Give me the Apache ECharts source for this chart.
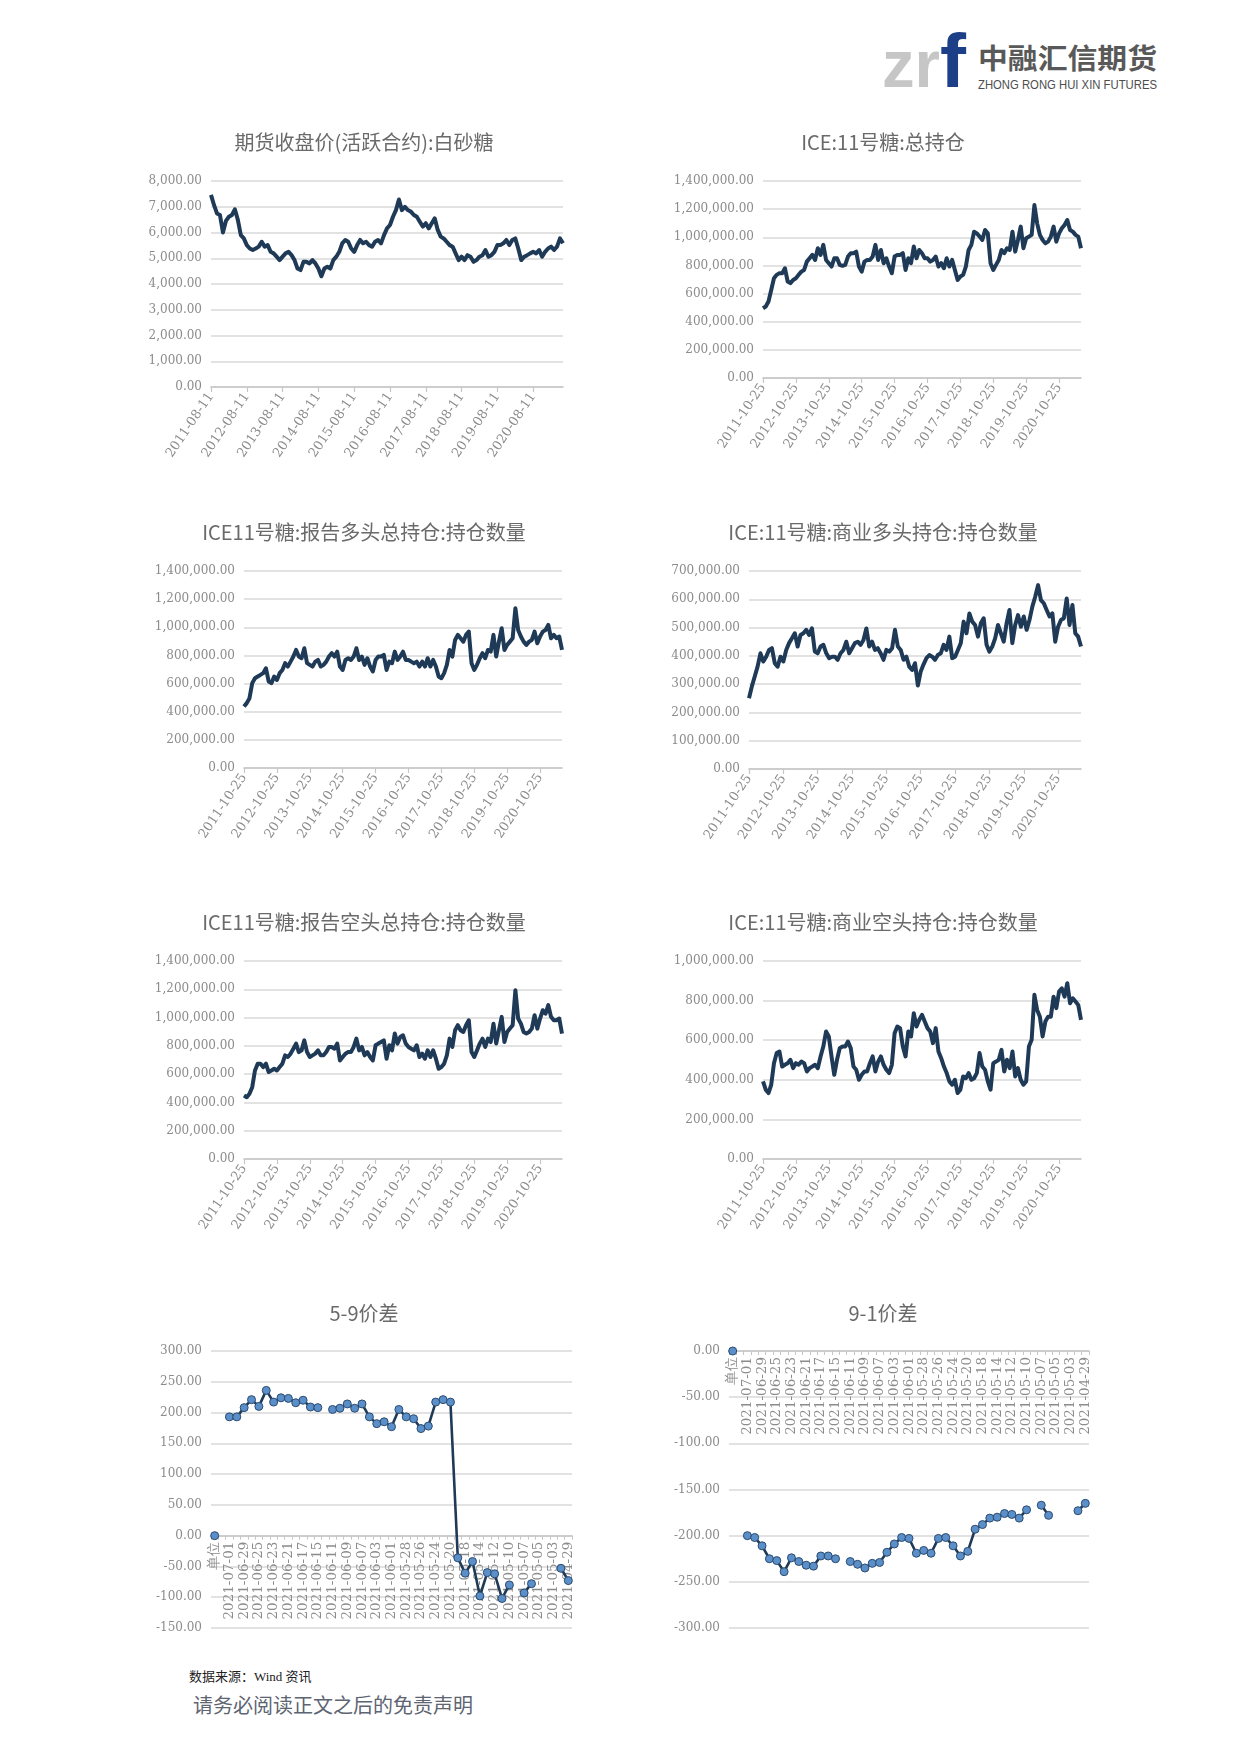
<!DOCTYPE html>
<html><head><meta charset="utf-8">
<script src="https://cdn.jsdelivr.net/npm/echarts@6/dist/echarts.min.js"></script>
<style>
html,body{margin:0;padding:0;background:#fff;}
#page{position:relative;width:1240px;height:1753px;overflow:hidden;background:#fff;}
.chart{position:absolute;width:460px;height:370px;}
.txt{position:absolute;white-space:nowrap;}
</style></head><body>
<div id="page">
<svg style="position:absolute;left:0;top:0" width="1240" height="110">
  <text x="882" y="87" font-family="Liberation Sans" font-weight="bold" font-size="66" fill="#c6c6c6" textLength="58" lengthAdjust="spacingAndGlyphs">zr</text>
  <text x="940" y="87" font-family="Liberation Sans" font-weight="bold" font-size="76" fill="#1d3f87" textLength="26" lengthAdjust="spacingAndGlyphs">f</text>
  <text x="978" y="69" font-family="Noto Sans CJK SC" font-weight="bold" font-size="28" fill="#595959" textLength="179" lengthAdjust="spacingAndGlyphs">中融汇信期货</text>
  <text x="978" y="89" font-family="Liberation Sans" font-size="13" fill="#4d4d4d" textLength="179" lengthAdjust="spacingAndGlyphs">ZHONG RONG HUI XIN FUTURES</text>
</svg>
<div id="c1" class="chart" style="left:134px;top:110px"></div>
<div id="c2" class="chart" style="left:653px;top:110px"></div>
<div id="c3" class="chart" style="left:134px;top:500px"></div>
<div id="c4" class="chart" style="left:653px;top:500px"></div>
<div id="c5" class="chart" style="left:134px;top:890px"></div>
<div id="c6" class="chart" style="left:653px;top:890px"></div>
<div id="c7" class="chart" style="left:134px;top:1280px"></div>
<div id="c8" class="chart" style="left:653px;top:1280px"></div>
<div class="txt" style="left:189px;top:1668px;font-size:13px;line-height:18px;font-family:'Liberation Serif','Noto Sans CJK SC';color:#222">数据来源：Wind 资讯</div>
<div class="txt" style="left:193px;top:1693px;font-size:20px;line-height:24px;font-family:'Noto Sans CJK SC';color:#5d6472">请务必阅读正文之后的免责声明</div>
</div>
<script>
// ---------- category helpers ----------
function monthlyDates(y, m, d, n) {
  const out = [];
  for (let i = 0; i < n; i++) {
    const k = m - 1 + i;
    const yy = y + Math.floor(k / 12);
    const mo = (k % 12) + 1;
    out.push(yy + '-' + String(mo).padStart(2, '0') + '-' + d);
  }
  return out;
}
const sugarDates = monthlyDates(2011, 8, 11, 119);
const iceDates = monthlyDates(2011, 10, 25, 117);

// ---------- data ----------
const sugarClose = [7460, 7070, 6740, 6680, 6000, 6450, 6610, 6680, 6900, 6490,
  5900, 5770, 5510, 5380, 5320, 5380, 5450, 5640, 5450, 5510,
  5250, 5190, 5060, 4930, 5060, 5190, 5250, 5120, 4930, 4600,
  4540, 4860, 4860, 4800, 4930, 4800, 4600, 4300, 4600, 4670,
  4600, 4930, 5060, 5250, 5580, 5710, 5640, 5380, 5250, 5510,
  5710, 5580, 5640, 5510, 5450, 5640, 5710, 5580, 5900, 6160,
  6290, 6610, 6870, 7280, 6870, 7000, 6870, 6810, 6680, 6610,
  6420, 6230, 6360, 6160, 6360, 6550, 6100, 5840, 5770, 5640,
  5510, 5450, 5190, 4930, 5060, 4930, 5120, 5060, 4860, 4930,
  5060, 5120, 5320, 5060, 5120, 5250, 5510, 5510, 5580, 5710,
  5510, 5710, 5770, 5380, 4930, 5060, 5120, 5190, 5250, 5190,
  5320, 5060, 5250, 5380, 5450, 5320, 5450, 5770, 5580];

const iceTotalOI = [496000, 508000, 544000, 626000, 709000, 733000, 745000, 745000, 780000, 686000,
  674000, 697000, 709000, 733000, 756000, 768000, 827000, 851000, 875000, 839000,
  922000, 875000, 946000, 839000, 816000, 792000, 851000, 851000, 804000, 797000,
  804000, 863000, 887000, 887000, 898000, 792000, 756000, 827000, 839000, 839000,
  863000, 946000, 839000, 910000, 816000, 851000, 792000, 745000, 863000, 875000,
  875000, 887000, 768000, 851000, 816000, 934000, 851000, 910000, 887000, 851000,
  851000, 827000, 839000, 863000, 792000, 816000, 780000, 851000, 792000, 839000,
  768000, 697000, 721000, 733000, 792000, 910000, 946000, 1040000, 1028000, 1005000,
  981000, 1052000, 1028000, 816000, 768000, 804000, 839000, 910000, 887000, 922000,
  910000, 1040000, 898000, 981000, 1076000, 922000, 993000, 1005000, 1017000, 1229000,
  1099000, 1017000, 981000, 957000, 969000, 1005000, 1076000, 969000, 1028000, 1064000,
  1088000, 1123000, 1052000, 1040000, 1017000, 1005000, 922000];

const iceReportLong = [437000, 461000, 496000, 603000, 638000, 650000, 662000, 674000, 709000, 615000,
  603000, 650000, 626000, 674000, 697000, 745000, 721000, 756000, 792000, 839000,
  792000, 780000, 851000, 745000, 733000, 721000, 756000, 768000, 721000, 733000,
  756000, 792000, 816000, 792000, 827000, 721000, 697000, 768000, 780000, 768000,
  792000, 851000, 768000, 792000, 733000, 780000, 721000, 686000, 768000, 792000,
  792000, 804000, 697000, 756000, 745000, 827000, 768000, 792000, 827000, 768000,
  768000, 756000, 745000, 756000, 721000, 756000, 721000, 780000, 721000, 768000,
  721000, 650000, 638000, 674000, 733000, 839000, 792000, 910000, 946000, 922000,
  898000, 946000, 969000, 745000, 697000, 733000, 780000, 816000, 780000, 839000,
  827000, 946000, 792000, 898000, 993000, 839000, 875000, 898000, 922000, 1135000,
  981000, 934000, 898000, 875000, 898000, 910000, 969000, 887000, 934000, 969000,
  981000, 1017000, 922000, 946000, 922000, 934000, 839000];

const iceCommLong = [250000, 292000, 327000, 362000, 409000, 380000, 397000, 421000, 427000, 374000,
  362000, 397000, 380000, 421000, 445000, 462000, 480000, 433000, 474000, 480000,
  492000, 474000, 497000, 415000, 409000, 433000, 439000, 409000, 392000, 397000,
  397000, 386000, 409000, 421000, 450000, 409000, 427000, 445000, 450000, 439000,
  456000, 497000, 433000, 450000, 421000, 427000, 409000, 386000, 421000, 415000,
  427000, 492000, 433000, 421000, 386000, 397000, 362000, 350000, 374000, 295000,
  345000, 370000, 392000, 403000, 397000, 386000, 403000, 409000, 439000, 421000,
  468000, 392000, 397000, 421000, 445000, 521000, 480000, 550000, 521000, 509000,
  468000, 515000, 533000, 439000, 415000, 433000, 462000, 509000, 480000, 450000,
  515000, 562000, 445000, 509000, 544000, 503000, 539000, 492000, 527000, 574000,
  609000, 650000, 597000, 586000, 562000, 539000, 550000, 450000, 503000, 527000,
  533000, 603000, 509000, 580000, 480000, 468000, 433000];

const iceReportShort = [449000, 437000, 461000, 508000, 626000, 674000, 674000, 650000, 674000, 615000,
  626000, 638000, 626000, 650000, 674000, 733000, 721000, 745000, 780000, 816000,
  756000, 768000, 839000, 756000, 721000, 733000, 745000, 768000, 733000, 733000,
  756000, 792000, 792000, 780000, 816000, 697000, 721000, 745000, 756000, 756000,
  792000, 851000, 768000, 792000, 733000, 756000, 721000, 697000, 804000, 816000,
  827000, 839000, 709000, 804000, 768000, 887000, 816000, 863000, 875000, 816000,
  792000, 780000, 768000, 804000, 721000, 745000, 709000, 768000, 721000, 768000,
  709000, 638000, 650000, 674000, 733000, 851000, 792000, 910000, 946000, 910000,
  898000, 946000, 981000, 756000, 721000, 768000, 816000, 851000, 792000, 851000,
  827000, 957000, 816000, 910000, 1005000, 827000, 898000, 922000, 946000, 1194000,
  993000, 957000, 898000, 887000, 898000, 922000, 1017000, 922000, 993000, 1052000,
  1028000, 1088000, 1005000, 981000, 981000, 993000, 887000];

const iceCommShort = [392000, 350000, 333000, 375000, 484000, 535000, 543000, 467000, 476000, 484000,
  501000, 459000, 484000, 476000, 492000, 484000, 442000, 459000, 467000, 476000,
  459000, 518000, 568000, 644000, 619000, 518000, 425000, 501000, 560000, 568000,
  568000, 593000, 560000, 467000, 451000, 400000, 425000, 442000, 442000, 484000,
  518000, 442000, 492000, 518000, 476000, 451000, 434000, 476000, 635000, 669000,
  661000, 568000, 518000, 644000, 619000, 736000, 669000, 703000, 728000, 694000,
  661000, 644000, 585000, 661000, 543000, 509000, 467000, 434000, 392000, 375000,
  400000, 333000, 350000, 417000, 408000, 434000, 400000, 408000, 434000, 535000,
  467000, 451000, 392000, 350000, 484000, 492000, 501000, 551000, 442000, 501000,
  459000, 543000, 417000, 459000, 400000, 375000, 392000, 568000, 602000, 829000,
  753000, 719000, 619000, 694000, 719000, 719000, 820000, 762000, 846000, 862000,
  820000, 888000, 787000, 812000, 795000, 778000, 703000];

const spreadDates = ['单位', '2021-07-02', '2021-07-01', '2021-06-30', '2021-06-29', '2021-06-28', '2021-06-25', '2021-06-24', '2021-06-23', '2021-06-22',
  '2021-06-21', '2021-06-18', '2021-06-17', '2021-06-16', '2021-06-15', '2021-06-14', '2021-06-11', '2021-06-10', '2021-06-09', '2021-06-08',
  '2021-06-07', '2021-06-04', '2021-06-03', '2021-06-02', '2021-06-01', '2021-05-31', '2021-05-28', '2021-05-27', '2021-05-26', '2021-05-25',
  '2021-05-24', '2021-05-21', '2021-05-20', '2021-05-19', '2021-05-18', '2021-05-17', '2021-05-14', '2021-05-13', '2021-05-12', '2021-05-11',
  '2021-05-10', '2021-05-08', '2021-05-07', '2021-05-06', '2021-05-05', '2021-05-04', '2021-05-03', '2021-04-30', '2021-04-29'];

const spread59 = [0, null, 193, 193, 208, 221, 210, 236, 217, 224,
  223, 216, 220, 209, 208, null, 205, 207, 214, 207,
  214, 193, 182, 185, 177, 205, 193, 190, 174, 178,
  217, 221, 217, -36, -61, -42, -98, -60, -62, -102,
  -80, null, -93, -78, null, null, null, -53, -73];

const spread91 = [0, null, -200, -202, -211, -225, -227, -239, -224, -228,
  -232, -233, -222, -222, -225, null, -228, -231, -235, -230,
  -229, -218, -209, -202, -203, -219, -216, -219, -203, -202,
  -211, -222, -217, -193, -188, -181, -180, -176, -177, -181,
  -172, null, -167, -178, null, null, null, -173, -165];

// ---------- styling ----------
const AX_FONT = 'DejaVu Serif';
const LABEL_COLOR = '#8c8c8c';
const GRID_COLOR = '#d9d9d9';
const AXIS_COLOR = '#c6c6c6';
const LINE_COLOR = '#1f3a57';
const PLOT_TOP = 71;
const SPREAD_H = 277;

function fmt(v) {
  return Number(v).toLocaleString('en-US', { minimumFractionDigits: 2, maximumFractionDigits: 2 });
}
function titleOpt(text, top) {
  return { text: text, left: 'center', top: top, padding: 0,
    textStyle: { fontFamily: 'Noto Sans CJK SC', fontSize: 20, fontWeight: 'normal', color: '#6a6a6a' } };
}
function yAxisOpt(min, max, interval) {
  return { type: 'value', min: min, max: max, interval: interval,
    axisLine: { show: false }, axisTick: { show: false },
    splitLine: { show: true, lineStyle: { color: GRID_COLOR, width: 1.6 } },
    axisLabel: { formatter: fmt, fontFamily: AX_FONT, fontSize: 12, color: LABEL_COLOR, margin: 9 } };
}
function gridOpt(left, top, width, height) {
  return { left: left, top: top, width: width, height: height, containLabel: false, outerBoundsMode: 'none' };
}
function tsOption(title, cats, vals, yMax, yInt, left, width, height) {
  return {
    animation: false,
    title: titleOpt(title, 22),
    grid: gridOpt(left, PLOT_TOP, width, height),
    xAxis: { type: 'category', data: cats, boundaryGap: false,
      axisLine: { lineStyle: { color: AXIS_COLOR, width: 1.6 } },
      axisTick: { show: true, interval: 11, length: 5, lineStyle: { color: AXIS_COLOR, width: 1.2 } },
      axisLabel: { interval: 11, rotate: 56, fontFamily: AX_FONT, fontSize: 13, color: LABEL_COLOR, margin: 7 },
      splitLine: { show: false } },
    yAxis: yAxisOpt(0, yMax, yInt),
    series: [{ type: 'line', data: vals, showSymbol: false, symbol: 'none',
      lineStyle: { color: LINE_COLOR, width: 4, join: 'round' }, emphasis: { disabled: true } }]
  };
}
// Spread charts: the category labels hang from the zero line, so a second
// grid (same width) whose bottom edge sits on the zero line carries the
// visible category axis, while the series is drawn on the main grid.
function spreadOption(title, vals, yMin, yMax, left, width) {
  const zeroOffset = SPREAD_H * (yMax - 0) / (yMax - yMin);
  const g2top = zeroOffset > 1 ? PLOT_TOP : PLOT_TOP - 1;
  const g2h = zeroOffset > 1 ? zeroOffset : 1;
  return {
    animation: false,
    title: titleOpt(title, 23),
    grid: [gridOpt(left, PLOT_TOP, width, SPREAD_H), gridOpt(left, g2top, width, g2h)],
    xAxis: [
      { gridIndex: 0, type: 'category', data: spreadDates, boundaryGap: true, show: false },
      { gridIndex: 1, type: 'category', data: spreadDates, boundaryGap: true, position: 'bottom',
        axisLine: { onZero: false, lineStyle: { color: AXIS_COLOR, width: 1.6 } },
        axisTick: { show: true, interval: 0, length: 4, lineStyle: { color: AXIS_COLOR, width: 1 } },
        axisLabel: { interval: 1, rotate: 90, fontFamily: AX_FONT, fontSize: 13.5, color: LABEL_COLOR, margin: 6 },
        splitLine: { show: false } }
    ],
    yAxis: [
      Object.assign({ gridIndex: 0 }, yAxisOpt(yMin, yMax, 50)),
      { gridIndex: 1, type: 'value', min: 0, max: 1, show: false }
    ],
    series: [{ type: 'line', xAxisIndex: 0, yAxisIndex: 0, data: vals,
      showSymbol: true, showAllSymbol: true, symbol: 'circle', symbolSize: 8,
      connectNulls: false, z: 5,
      itemStyle: { color: '#5b8fc9', borderColor: '#2b4a6e', borderWidth: 1 },
      lineStyle: { color: LINE_COLOR, width: 2.6 }, emphasis: { disabled: true } }]
  };
}

function mk(id, opt) {
  const c = echarts.init(document.getElementById(id), null, { renderer: 'canvas' });
  c.setOption(opt);
}
mk('c1', tsOption('期货收盘价(活跃合约):白砂糖', sugarDates, sugarClose, 8000, 1000, 77, 352, 206));
mk('c2', tsOption('ICE:11号糖:总持仓', iceDates, iceTotalOI, 1400000, 200000, 110, 318, 197));
mk('c3', tsOption('ICE11号糖:报告多头总持仓:持仓数量', iceDates, iceReportLong, 1400000, 200000, 110, 318, 197));
mk('c4', tsOption('ICE:11号糖:商业多头持仓:持仓数量', iceDates, iceCommLong, 700000, 100000, 96, 332, 198));
mk('c5', tsOption('ICE11号糖:报告空头总持仓:持仓数量', iceDates, iceReportShort, 1400000, 200000, 110, 318, 198));
mk('c6', tsOption('ICE:11号糖:商业空头持仓:持仓数量', iceDates, iceCommShort, 1000000, 200000, 110, 318, 198));
mk('c7', spreadOption('5-9价差', spread59, -150, 300, 77, 361));
mk('c8', spreadOption('9-1价差', spread91, -300, 0, 76, 360));
</script>
</body></html>
